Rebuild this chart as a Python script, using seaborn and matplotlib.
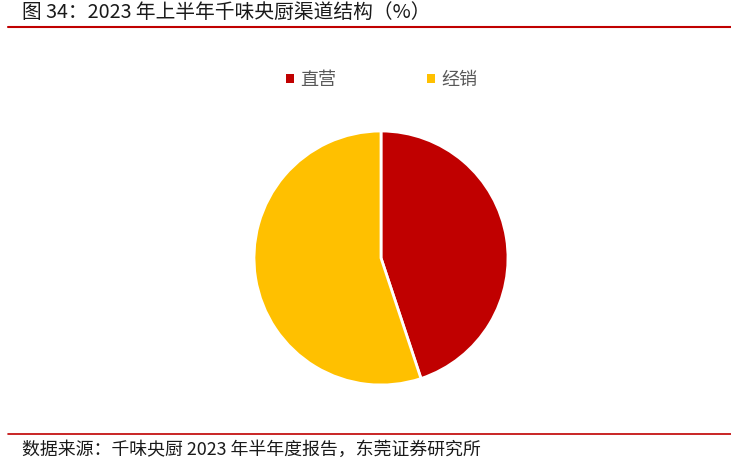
import matplotlib
matplotlib.use("Agg")
import matplotlib.pyplot as plt
import seaborn as sns
from matplotlib.patches import Patch
from matplotlib.lines import Line2D

labels = ["直营", "经销"]
values = [44.9, 55.1]
colors = ["#C00000", "#FFC000"]
title = "图 34：2023 年上半年千味央厨渠道结构（%）"
source = "数据来源：千味央厨 2023 年半年度报告，东莞证券研究所"

sns.set_style("white")
plt.rcParams["font.family"] = ["Noto Sans CJK SC", "DejaVu Sans"]

W, H = 731, 462
fig = plt.figure(figsize=(W / 100, H / 100), dpi=100)

cx, cy, r = 381, 258, 127
ax = fig.add_axes([(cx - r) / W, (H - cy - r) / H, 2 * r / W, 2 * r / H])
ax.pie(values, colors=colors, startangle=90, counterclock=False,
       wedgeprops=dict(edgecolor="white", linewidth=2))
ax.set_xlim(-1.0, 1.0)
ax.set_ylim(-1.0, 1.0)
ax.set_aspect("auto")
ax.axis("off")

handles = [Patch(facecolor=c, edgecolor="none") for c in colors]
fig.legend(handles, labels, loc="center", bbox_to_anchor=(0.522, 1 - 80 / H),
           ncol=2, frameon=False, fontsize=13, handlelength=0.45, handleheight=0.45,
           handletextpad=0.35, columnspacing=5.0, labelcolor="#595959")

fig.text(22 / W, 1 - 12 / H, title, fontsize=14.2, color="#1a1a1a", va="center", ha="left")
fig.add_artist(Line2D([8 / W, 1.0], [1 - 27 / H, 1 - 27 / H], color="#C00000", linewidth=1.5))
fig.add_artist(Line2D([8 / W, 1.0], [1 - 434 / H, 1 - 434 / H], color="#C00000", linewidth=1.2))
fig.text(22 / W, 1 - 450 / H, source, fontsize=12.9, color="#1a1a1a", va="center", ha="left")

fig.savefig("out.png", dpi=100)
